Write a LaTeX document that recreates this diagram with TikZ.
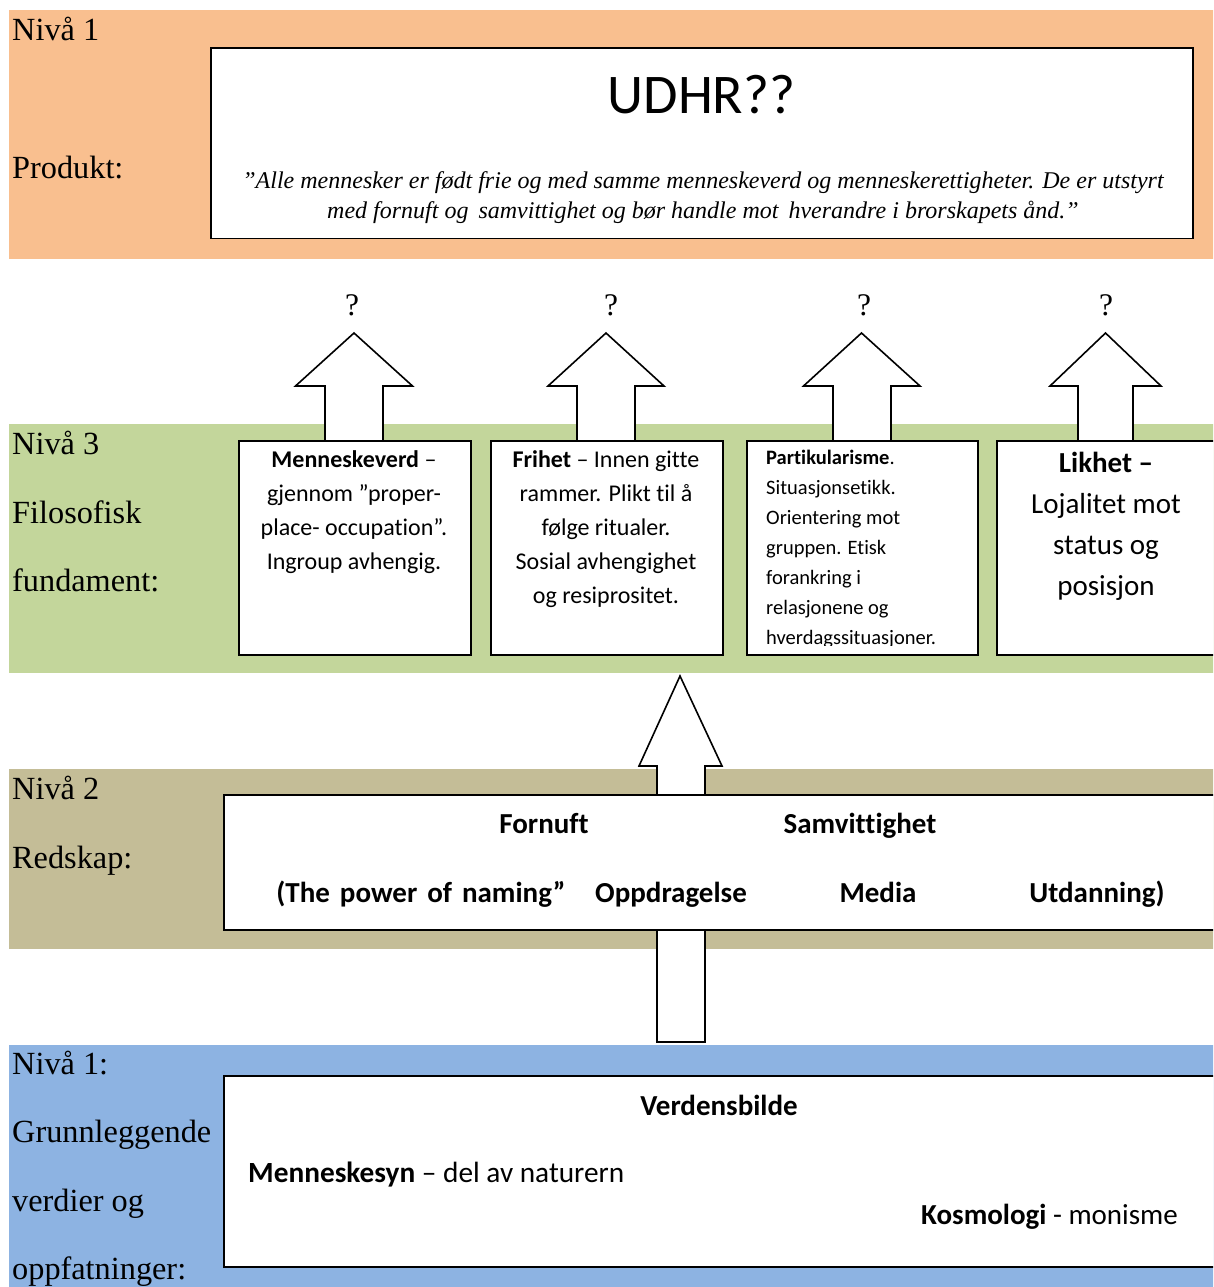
\documentclass[tikz,border=0pt]{standalone}
\usepackage{fontspec}
\setmainfont{Liberation Serif}
\newfontfamily\carl[Ligatures=NoCommon]{Carlito}
\definecolor{bandorange}{RGB}{249,191,143}
\definecolor{bandgreen}{RGB}{195,214,155}
\definecolor{bandtan}{RGB}{196,189,151}
\definecolor{bandblue}{RGB}{141,179,226}
\begin{document}
\begin{tikzpicture}[x=1pt,y=-1pt,
  box/.style={draw=black,line width=1.8pt,fill=white,inner sep=0pt,anchor=north west},
  blockarrow/.style={draw=black,line width=1.6pt,fill=white,line join=miter},
  band/.style={inner sep=0pt,anchor=north west,draw=none},
  lbl/.style={anchor=base west,inner sep=0pt,font=\fontsize{32.3}{38}\selectfont},
  qmark/.style={anchor=base,inner sep=0pt,font=\fontsize{31.5}{38}\selectfont},
  boxtxt/.style={anchor=north,inner sep=0pt,align=center,font=\carl\fontsize{24}{34}\selectfont},
  midtxt/.style={anchor=base,inner sep=0pt,font=\carl\bfseries\fontsize{29}{34}\selectfont}]
\clip (0,0) rectangle (1213,1287);
\fill[white] (0,0) rectangle (1213,1287);
% bands
\node[band,fill=bandorange,minimum width=1210pt,minimum height=249pt] (bandA) at (9,10) {};
\node[band,fill=bandgreen,minimum width=1210pt,minimum height=249pt] (bandB) at (9,424) {};
\node[band,fill=bandtan,minimum width=1210pt,minimum height=180pt] (bandC) at (9,769) {};
\node[band,fill=bandblue,minimum width=1210pt,minimum height=250pt] (bandD) at (9,1045) {};
% upward block arrows above level 3
\draw[blockarrow] (325,440) -- (325,386) -- (295.5,386) -- (354,333) -- (412.5,386) -- (383,386) -- (383,440);
\draw[blockarrow] (577,440) -- (577,386) -- (548,386) -- (606,333) -- (664,386) -- (635,386) -- (635,440);
\draw[blockarrow] (833,440) -- (833,386) -- (803.5,386) -- (861.5,333) -- (920,386) -- (891,386) -- (891,440);
\draw[blockarrow] (1078,440) -- (1078,386) -- (1050,386) -- (1105.5,333) -- (1161,386) -- (1133,386) -- (1133,440);
% central arrow level 2 -> level 3
\draw[blockarrow] (657,794) -- (657,766) -- (639,766) -- (680,676) -- (722,766) -- (705,766) -- (705,794);
% shaft level 1 -> level 2
\draw[blockarrow] (657,929) -- (657,1042) -- (705,1042) -- (705,929);
% boxes
\node[box,minimum width=982pt,minimum height=190.5pt] (top) at (210,47) {};
\node[box,minimum width=232pt,minimum height=214pt] (b1) at (238,440) {};
\node[box,minimum width=232pt,minimum height=214pt] (b2) at (490,440) {};
\node[box,minimum width=231pt,minimum height=214pt] (b3) at (746,440) {};
\node[box,minimum width=260pt,minimum height=214pt] (b4) at (996,440) {};
\node[box,minimum width=1020pt,minimum height=135pt] (mid) at (223,794) {};
\node[box,minimum width=1020pt,minimum height=191pt] (bot) at (223,1075) {};
% left labels
\node[lbl] (l1) at (12,41) {Nivå 1};
\node[lbl] (l2) at (12,178.5) {Produkt:};
\node[lbl] (l3) at (12,454.5) {Nivå 3};
\node[lbl] (l4) at (12,523) {Filosofisk};
\node[lbl] (l5) at (12,591.5) {fundament:};
\node[lbl] (l6) at (12,799.5) {Nivå 2};
\node[lbl] (l7) at (12,868) {Redskap:};
\node[lbl] (l8) at (12,1074) {Nivå 1:};
\node[lbl] (l9) at (12,1142.5) {Grunnleggende};
\node[lbl] (l10) at (12,1211) {verdier og};
\node[lbl] (l11) at (12,1279.5) {oppfatninger:};
% top box text
\node[anchor=base,inner sep=0pt,font=\carl\fontsize{56}{60}\selectfont] (udhr) at (701.5,113.3) {UDHR??};
\node[anchor=north,inner sep=0pt,align=center,font=\itshape\fontsize{24}{30}\selectfont] (quote) at (703,167.3)
  {\strut ”Alle mennesker er født frie og med samme menneskeverd og menneskerettigheter. De er utstyrt\\
   med fornuft og\, samvittighet og bør handle mot\, hverandre i brorskapets ånd.”};
% question marks
\node[qmark] (q1) at (352,315) {?};
\node[qmark] (q2) at (611,315) {?};
\node[qmark] (q3) at (864,315) {?};
\node[qmark] (q4) at (1106,315) {?};
% level 3 box texts
\node[boxtxt] (t1) at (354,443) {\strut\textbf{Menneskeverd} –\\ gjennom ”proper-\\ place- occupation”.\\ Ingroup avhengig.};
\node[boxtxt] (t2) at (606,443) {\strut\textbf{Frihet} – Innen gitte\\ rammer. Plikt til å\\ følge ritualer.\\ Sosial avhengighet\\ og resiprositet.};
\begin{scope}
\clip (746,440) rectangle (977,645);
\node[anchor=north west,inner sep=0pt,align=left,font=\carl\fontsize{20.5}{30}\selectfont] (t3) at (766,443)
  {\strut\textbf{Partikularisme}.\\ Situasjonsetikk.\\ Orientering mot\\ gruppen. Etisk\\ forankring i\\ relasjonene og\\ hverdagssituasjoner.};
\end{scope}
\node[boxtxt,font=\carl\fontsize{29}{41}\selectfont] (t4) at (1106,443.3) {\strut\textbf{Likhet –}\\ Lojalitet mot\\ status og\\ posisjon};
% level 2 box texts
\node[midtxt] (m1) at (544,833.5) {Fornuft};
\node[midtxt] (m2) at (860,833.5) {Samvittighet};
\node[midtxt] (m3) at (421,902) {(The\hspace{10pt}power\hspace{10pt}of\hspace{10pt}naming”};
\node[midtxt] (m4) at (671,902) {Oppdragelse};
\node[midtxt] (m5) at (878,902) {Media};
\node[midtxt] (m6) at (1097,902) {Utdanning)};
% level 1 box texts
\node[midtxt] (v1) at (719,1115) {Verdensbilde};
\node[anchor=base west,inner sep=0pt,font=\carl\fontsize{29.3}{34}\selectfont] (v2) at (248,1182) {\textbf{Menneskesyn} – del av naturern};
\node[anchor=base east,inner sep=0pt,font=\carl\fontsize{29}{34}\selectfont] (v3) at (1178,1224) {\textbf{Kosmologi} - monisme};
\end{tikzpicture}
\end{document}
